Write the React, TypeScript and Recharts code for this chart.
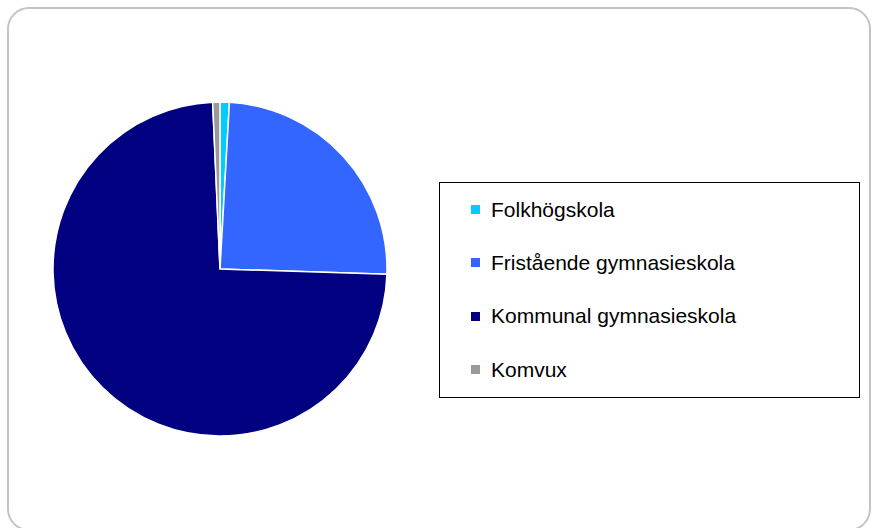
import React from 'react';
import { PieChart, Pie, Cell, Legend } from 'recharts';

const schoolTypes = ['Folkhögskola', 'Fristående gymnasieskola', 'Kommunal gymnasieskola', 'Komvux'];
const shares = [0.9, 24.6, 73.8, 0.7];
const sliceColors = ['#00CCFF', '#3366FF', '#000080', '#999999'];

const pieData = schoolTypes.map((name, i) => ({ name, value: shares[i] }));

const BoxLegend = (props: any) => {
    const { payload } = props;
    return (
        <div
            style={{
                width: 421,
                height: 216,
                border: '1.5px solid #000',
                boxSizing: 'border-box',
                background: '#fff',
            }}
        >
            {(payload || []).map((entry: any, i: number) => (
                <div
                    key={i}
                    style={{ display: 'flex', alignItems: 'center', height: 53.3, paddingLeft: 31 }}
                >
                    <span
                        style={{ width: 9, height: 9, background: entry.color, display: 'inline-block', marginRight: 11 }}
                    />
                    <span style={{ fontSize: 21, color: '#000', fontFamily: '"Liberation Sans", Arial, sans-serif' }}>
                        {entry.value}
                    </span>
                </div>
            ))}
        </div>
    );
};

export default function App() {
    return (
        <div style={{ position: 'absolute', left: 0, top: 0, width: 872, height: 528, overflow: 'hidden', background: '#fff' }}>
            {/* outer rounded frame */}
            <div
                style={{
                    position: 'absolute',
                    left: 7,
                    top: 7,
                    width: 864,
                    height: 524,
                    border: '2px solid #c4c4c4',
                    borderRadius: 22,
                    boxSizing: 'border-box',
                }}
            />
            <PieChart
                width={872}
                height={528}
                margin={{ top: 0, right: 0, bottom: 0, left: 0 }}
                style={{ position: 'absolute', left: 0, top: 0 }}
            >
                <Pie
                    data={pieData}
                    dataKey="value"
                    nameKey="name"
                    cx={220}
                    cy={269}
                    outerRadius={167}
                    startAngle={90}
                    endAngle={-270}
                    stroke="#fff"
                    strokeWidth={1.5}
                    isAnimationActive={false}
                >
                    {pieData.map((d, i) => (
                        <Cell key={d.name} fill={sliceColors[i]} />
                    ))}
                </Pie>
                <Legend
                    layout="vertical"
                    content={<BoxLegend />}
                    wrapperStyle={{ position: 'absolute', left: 439, top: 182, width: 421 }}
                />
            </PieChart>
        </div>
    );
}
